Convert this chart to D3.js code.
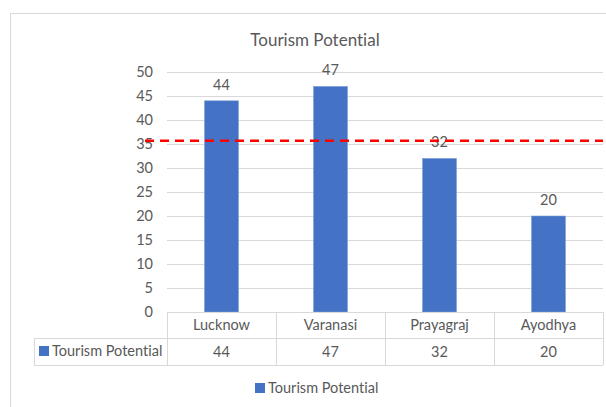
<!DOCTYPE html>
<html>
<head>
<meta charset="utf-8">
<script src="https://cdn.jsdelivr.net/npm/d3@7"></script>
<style>
  body { margin: 0; background: #fff; }
  text { font-family: Lato, "Open Sans", sans-serif; fill: #595959; font-variant-ligatures: none; }
</style>
</head>
<body>
<div class="chart"></div>
<script>
// data
const cities = ["Lucknow", "Varanasi", "Prayagraj", "Ayodhya"]
const potential = [44, 47, 32, 20]
const seriesName = "Tourism Potential"
const yTicks = [0, 5, 10, 15, 20, 25, 30, 35, 40, 45, 50]
const threshold = 35.7

const width = 606, height = 407
const margin = ({ top: 72, right: 3, bottom: 95, left: 167 })

const svg = d3.select(".chart")
    .append("svg")
    .attr("width", width)
    .attr("height", height)

// chart frame
svg.append("rect")
    .attr("x", 10.5).attr("y", 13.5)
    .attr("width", 620).attr("height", 420)
    .attr("fill", "none")
    .attr("stroke", "#d9d9d9")

// scales
const xScale = d3.scaleBand()
    .domain(cities)
    .range([margin.left, width - margin.right])

const yScale = d3.scaleLinear()
    .domain([0, 50])
    .range([height - margin.bottom, margin.top])

// gridlines
svg.append("g")
    .selectAll("line")
    .data(yTicks.filter(d => d > 0))
    .join("line")
    .attr("x1", margin.left)
    .attr("x2", width - margin.right)
    .attr("y1", d => Math.round(yScale(d)) + 0.5)
    .attr("y2", d => Math.round(yScale(d)) + 0.5)
    .attr("stroke", "#d9d9d9")

// y axis labels
const yAxis = svg.append("g")
    .attr("transform", "translate(" + (margin.left - 14) + ",0)")
    .call(d3.axisLeft(yScale).tickValues(yTicks).tickSize(0).tickPadding(0))
yAxis.select(".domain").remove()
yAxis.selectAll("text")
    .style("font-size", "14.5px")
    .style("font-family", "Lato, sans-serif")
    .attr("fill", "#595959")

// bars
const barW = 34
svg.selectAll("rect.bar")
    .data(cities)
    .join("rect")
    .attr("class", "bar")
    .attr("x", d => xScale(d) + (xScale.bandwidth() - barW) / 2)
    .attr("y", (d, i) => yScale(potential[i]))
    .attr("width", barW)
    .attr("height", (d, i) => yScale(0) - yScale(potential[i]))
    .attr("fill", "#4472c4")
    .attr("stroke", "#7f9fd8")
    .attr("stroke-width", 0.6)

// value labels
svg.selectAll("text.val")
    .data(cities)
    .join("text")
    .attr("class", "val")
    .attr("x", d => xScale(d) + xScale.bandwidth() / 2)
    .attr("y", (d, i) => yScale(potential[i]) - 11)
    .attr("text-anchor", "middle")
    .style("font-size", "14.5px")
    .text((d, i) => potential[i])

// red dashed reference line
svg.append("line")
    .attr("x1", 145)
    .attr("x2", width - margin.right)
    .attr("y1", yScale(threshold))
    .attr("y2", yScale(threshold))
    .attr("stroke", "#ff0000")
    .attr("stroke-width", 2.5)
    .attr("stroke-dasharray", "9,6")

// data table
const row1 = yScale(0), row2 = row1 + 26, row3 = row2 + 27
const tbl = svg.append("g")
    .attr("stroke", "#d9d9d9")
    .attr("shape-rendering", "crispEdges")
tbl.append("line").attr("x1", margin.left).attr("x2", width - margin.right).attr("y1", row1).attr("y2", row1)
tbl.append("line").attr("x1", 34).attr("x2", width - margin.right).attr("y1", row2).attr("y2", row2)
tbl.append("line").attr("x1", 34).attr("x2", width - margin.right).attr("y1", row3).attr("y2", row3)
tbl.append("line").attr("x1", 34).attr("x2", 34).attr("y1", row2).attr("y2", row3)
tbl.selectAll("line.sep")
    .data(cities.map(d => xScale(d)).concat([width - margin.right]))
    .join("line")
    .attr("class", "sep")
    .attr("x1", d => d).attr("x2", d => d)
    .attr("y1", row1).attr("y2", row3)

svg.selectAll("text.cat")
    .data(cities)
    .join("text")
    .attr("class", "cat")
    .attr("x", d => xScale(d) + xScale.bandwidth() / 2)
    .attr("y", row1 + 18)
    .attr("text-anchor", "middle")
    .style("font-size", "14.5px")
    .text(d => d)

svg.selectAll("text.cell")
    .data(cities)
    .join("text")
    .attr("class", "cell")
    .attr("x", d => xScale(d) + xScale.bandwidth() / 2)
    .attr("y", row2 + 19)
    .attr("text-anchor", "middle")
    .style("font-size", "14.5px")
    .text((d, i) => potential[i])

svg.append("rect")
    .attr("x", 39).attr("y", row2 + 8)
    .attr("width", 10).attr("height", 10)
    .attr("fill", "#4472c4")
svg.append("text")
    .attr("x", 52).attr("y", row2 + 18)
    .style("font-size", "14.5px")
    .text(seriesName)

// title
svg.append("text")
    .attr("x", 315).attr("y", 46)
    .attr("text-anchor", "middle")
    .style("font-size", "17px")
    .text(seriesName)

// legend
svg.append("rect")
    .attr("x", 255).attr("y", 383)
    .attr("width", 10).attr("height", 10)
    .attr("fill", "#4472c4")
svg.append("text")
    .attr("x", 268).attr("y", 393)
    .style("font-size", "14.5px")
    .text(seriesName)
</script>
</body>
</html>
